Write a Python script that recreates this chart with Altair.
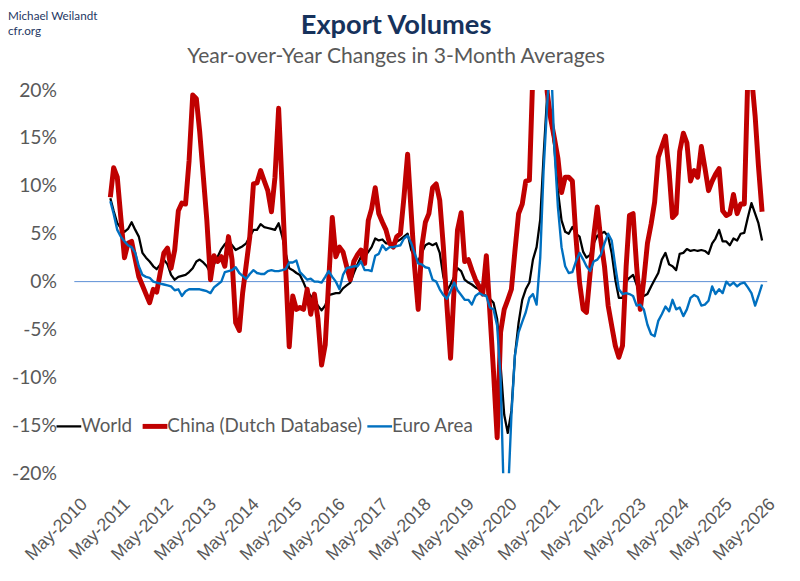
import altair as alt
import pandas as pd

series_names = ["World", "China (Dutch Database)", "Euro Area"]
series_colors = ["#000000", "#c00000", "#0070c0"]
series_widths = [2.3, 5.0, 2.4]

# monthly observations, Feb-2011 .. Apr-2026 (3-month averages, % y/y)
first_month = "2011-02-01"
n_months = 183

world = [
    8.7, 7.4, 6.1, 5.6, 5.2, 5.5, 6.2, 5.4, 4.7, 3.0, 2.5,            # 2011
    2.1, 1.6, 1.3, 1.8, 2.3, 1.8, 0.7, 0.2, 0.5, 0.6, 0.7, 1.0,       # 2012
    1.4, 2.1, 2.3, 2.0, 1.6, 0.9, 1.8, 2.6, 3.4, 3.9, 4.3, 3.8,       # 2013
    3.3, 3.5, 3.7, 4.0, 4.7, 5.4, 5.4, 6.0, 5.7, 5.6, 5.5, 5.4,       # 2014
    6.1, 4.7, 3.0, 1.4, 1.2, 0.9, 0.7, -0.1, -1.0, -1.5, -2.0, -2.5,  # 2015
    -3.0, -2.5, -1.4, -1.3, -1.2, -1.2, -0.7, -0.4, -0.1, 0.9, 1.8, 2.6,  # 2016
    2.6, 3.1, 3.6, 4.5, 4.3, 4.4, 4.0, 4.0, 3.8, 4.2, 4.4, 4.7,       # 2017
    5.0, 3.3, 2.6, 2.1, 3.0, 3.8, 4.0, 3.8, 4.0, 3.0, 0.5, -1.0,      # 2018
    -0.3, 0.5, 1.4, 1.1, 0.2, -0.1, -0.3, -0.6, -0.8, -1.3, -1.5, -1.8,  # 2019
    -2.2, -3.9, -8.7, -13.9, -15.8, -13.5, -7.7, -4.3, -1.9, -0.8, -0.1, 2.3,  # 2020
    3.6, 6.5, 13.0, 19.5, 17.4, 14.0, 9.5, 6.4, 5.2, 5.0, 5.7, 5.0,   # 2021
    4.7, 3.1, 2.5, 2.8, 4.0, 4.8, 5.0, 5.2, 4.7, 3.0, 0.2, -1.7,      # 2022
    -1.7, 0.0, 0.4, 0.7, -0.3, -1.5, -1.5, -1.3, -0.5, 0.2, 0.9, 2.3, # 2023
    3.0, 1.8, 1.6, 1.2, 2.9, 3.0, 3.4, 3.2, 3.3, 3.2, 3.3, 3.2,       # 2024
    2.9, 4.0, 4.5, 5.4, 4.2, 4.2, 3.8, 4.5, 4.3, 5.0, 5.1, 6.7,       # 2025
    8.2, 7.1, 6.1, 4.3,                                               # 2026
]

china = [
    8.8, 11.9, 10.9, 6.7, 2.5, 4.0, 4.2, 2.3, 0.5, -0.4, -1.3,
    -2.2, -0.8, -1.1, 1.0, 3.0, 3.5, 1.4, 3.3, 7.4, 8.2, 8.1, 12.6,
    19.5, 19.1, 15.7, 11.0, 6.4, 0.2, 2.7, 2.1, 2.6, 1.6, 4.7, 2.3,
    -4.3, -5.1, -1.2, 1.8, 4.7, 10.2, 10.3, 11.6, 10.5, 9.5, 7.3, 10.9,
    18.1, 9.5, 1.6, -6.8, -1.5, -2.9, -2.7, -2.9, -0.8, -3.4, -1.3, -3.9,
    -8.7, -6.6, 0.0, 6.7, 2.6, 3.6, 3.1, 1.6, 0.2, 2.1, 2.8, 3.3,
    1.9, 6.4, 7.6, 9.8, 7.1, 6.2, 5.4, 4.0, 3.6, 4.7, 5.0, 8.8,
    13.3, 7.1, 1.6, -2.9, 3.6, 6.2, 7.1, 9.8, 10.2, 8.5, 3.6, -2.5,
    -8.0, -0.5, 5.4, 7.2, 2.1, 2.3, 1.2, 0.2, -0.5, -1.3, 2.7, -3.2,
    -9.4, -16.3, -5.3, -2.9, -1.9, -0.8, 3.2, 7.1, 8.1, 10.5, 10.6, 22.0,
    32.0, 36.0, 30.0, 19.8, 17.0, 15.0, 12.9, 9.3, 10.9, 10.9, 10.5, 4.7,
    -0.1, -2.9, -3.2, 0.9, 4.7, 7.8, 4.3, 1.6, -2.5, -4.6, -6.7, -7.9,
    -6.7, 1.6, 6.9, 7.1, 1.6, -2.9, 0.2, 4.0, 6.0, 8.3, 13.0, 14.1,
    15.2, 11.5, 6.7, 7.1, 13.6, 15.5, 14.5, 10.5, 11.6, 10.9, 14.1, 11.9,
    9.5, 10.5, 11.2, 11.8, 7.4, 6.9, 7.1, 9.1, 7.1, 8.1, 8.1, 21.5,
    21.5, 17.3, 12.1, 7.3,
]

euro = [
    8.4, 7.1, 5.4, 4.7, 4.2, 3.8, 3.6, 3.0, 1.6, 0.7, 0.5,
    0.4, 0.0, -0.1, -0.2, -0.3, -0.4, -0.5, -0.9, -0.8, -1.5, -1.0, -0.8,
    -0.8, -0.8, -0.8, -0.9, -1.0, -1.2, -0.6, -0.3, 0.0, 1.0, 1.1, 1.2,
    1.5, 0.9, 0.6, 0.3, 0.8, 1.2, 0.9, 0.8, 0.8, 1.1, 1.2, 1.1,
    1.1, 1.2, 1.3, 2.0, 2.0, 2.2, 1.0, 0.6, 0.2, 0.3, 0.0, 0.0,
    -0.1, 0.5, 1.1, 0.5, 0.0, -0.8, 0.7, 1.4, 1.5, 1.6, 1.6, 2.1,
    1.2, 1.2, 1.1, 2.7, 2.9, 3.8, 3.3, 3.6, 3.6, 3.7, 3.8, 4.5,
    4.8, 4.0, 3.0, 1.9, 1.8, 1.5, 1.4, 0.2, 0.0, -0.8, -1.4, -1.8,
    -1.0, -0.1, -0.9, -1.4, -1.9, -1.9, -2.4, -1.5, -1.2, -1.4, -1.5, -2.7,
    -2.9, -4.6, -10.1, -24.0, -23.0, -14.0, -7.7, -5.3, -4.2, -3.2, -1.7, -1.3,
    -2.4, 2.5, 11.5, 18.5, 24.0, 14.0, 7.8, 3.6, 1.6, 0.9, 1.0, 2.1,
    3.0, 2.3, 1.6, 1.1, 2.1, 2.3, 2.8, 4.0, 5.0, 4.3, 1.6, -0.8,
    -1.3, -1.2, -1.3, -1.5, -2.5, -2.4, -2.9, -4.5, -5.5, -5.7, -4.1, -3.4,
    -2.6, -3.1, -1.9, -2.9, -2.7, -3.6, -2.9, -1.7, -1.4, -1.6, -2.5, -2.4,
    -2.0, -0.5, -1.3, -0.8, -1.2, 0.0, -0.4, -0.1, -0.5, -0.2, -0.1, -0.6,
    -1.2, -2.5, -1.5, -0.3,
]

tick_years = list(range(2010, 2027))
y_ticks = [-20, -15, -10, -5, 0, 5, 10, 15, 20]
credit_lines = ["Michael Weilandt", "cfr.org"]
title_text = "Export Volumes"
subtitle_text = "Year-over-Year Changes in 3-Month Averages"

dates = list(pd.date_range(first_month, periods=n_months, freq="MS").strftime("%Y-%m-%d"))
frames = []
for name, vals in zip(series_names, [world, china, euro]):
    frames.append(pd.DataFrame({"date": dates, "value": vals, "series": name}))
df = pd.concat(frames, ignore_index=True)

GRAY = "#595959"
NAVY = "#16325c"
yscale = alt.Scale(domain=[-20, 20], nice=False)
yaxis = alt.Axis(values=y_ticks, labelExpr="datum.value + '%'", labelFontSize=19.5,
                 labelFont="Lato", labelColor=GRAY, labelPadding=18, domain=False,
                 ticks=False, grid=False, title=None)
xscale = alt.Scale(type="utc", domain=[alt.DateTime(year=2010, month=4, date=1, utc=True),
                                       alt.DateTime(year=2026, month=5, date=15, utc=True)])
xaxis = alt.Axis(values=[alt.DateTime(year=y, month=5, date=1, utc=True) for y in tick_years],
                 labelExpr="utcFormat(datum.value, '%b-%Y')", labelAngle=315,
                 labelAlign="right", labelBaseline="top", labelPadding=22,
                 labelFontSize=18, labelFont="Liberation Sans", labelColor=GRAY,
                 domain=False, ticks=False, grid=False, title=None,
                 labelOverlap=False, labelFlush=False)

width_expr = "datum.value == '%s' ? %s : (datum.value == '%s' ? %s : %s)" % (
    series_names[1], series_widths[1], series_names[0], series_widths[0], series_widths[2])

legend = alt.Legend(orient="none", legendX=-15, legendY=330, direction="horizontal",
                    title=None, symbolType="stroke", symbolSize=625,
                    symbolStrokeWidth=alt.ExprRef(width_expr),
                    labelFontSize=19, labelFont="Lato", labelColor=GRAY,
                    labelOffset=3, columnPadding=0, labelLimit=400)

color = alt.Color("series:N", scale=alt.Scale(domain=series_names, range=series_colors),
                  legend=legend)

zero = alt.Chart(pd.DataFrame({"value": [0]})).mark_rule(
    color="#5b8fd6", strokeWidth=1
).encode(y=alt.Y("value:Q", scale=yscale, axis=yaxis))

layers = [zero]
for name, w in zip(series_names, series_widths):
    layers.append(
        alt.Chart(df).transform_filter(alt.datum.series == name)
        .mark_line(clip=True, strokeJoin="round", strokeWidth=w)
        .encode(
            x=alt.X("date:T", scale=xscale, axis=xaxis),
            y=alt.Y("value:Q", scale=yscale, axis=yaxis),
            color=color,
        )
    )

for i, line in enumerate(credit_lines):
    layers.append(
        alt.Chart(pd.DataFrame({"t": [line]})).mark_text(
            align="left", baseline="middle", fontSize=11.8, font="Lato", color="#1f3864"
        ).encode(x=alt.value(-67), y=alt.value(-75 + 15 * i), text="t:N")
    )

layers.append(
    alt.Chart(pd.DataFrame({"t": [title_text]})).mark_text(
        align="center", baseline="middle", fontSize=27.5, font="Lato",
        fontWeight="bold", color=NAVY
    ).encode(x=alt.value(325), y=alt.value(-65), text="t:N")
)
layers.append(
    alt.Chart(pd.DataFrame({"t": [subtitle_text]})).mark_text(
        align="center", baseline="middle", fontSize=21.3, font="Lato", color=GRAY
    ).encode(x=alt.value(325), y=alt.value(-33), text="t:N")
)

chart = alt.layer(*layers).properties(
    width=700,
    height=387,
    autosize=alt.AutoSizeParams(type="none"),
    padding={"left": 67, "top": 80, "right": 25, "bottom": 104},
).configure_view(stroke=None)

chart.save("out.html", embed_options={"renderer": "svg", "actions": False})
